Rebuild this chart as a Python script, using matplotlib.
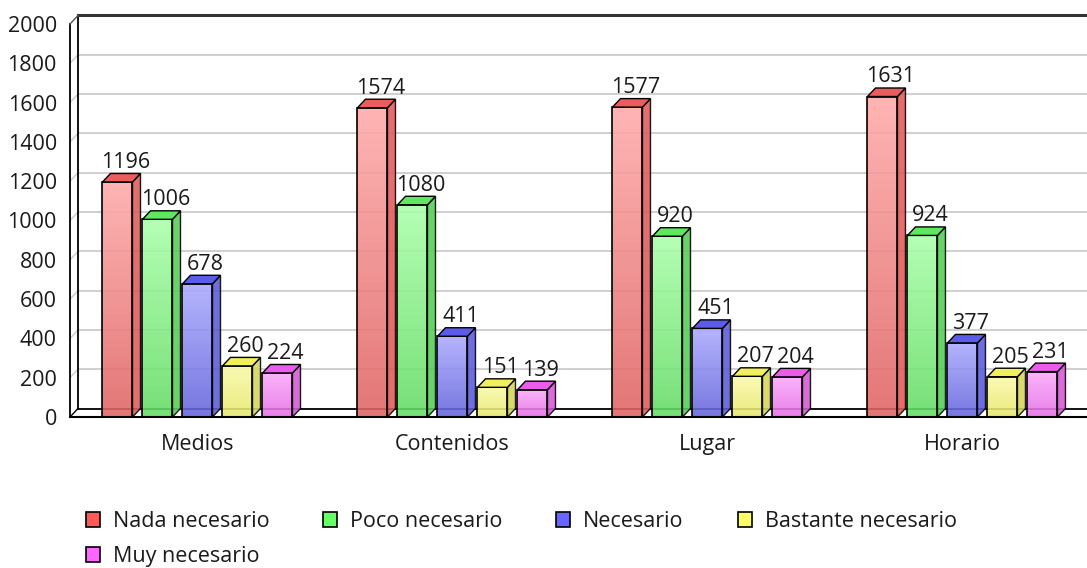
import matplotlib.pyplot as plt
import numpy as np
from matplotlib.patches import Polygon, Rectangle, Patch

plt.rcParams['font.family'] = ['Open Sans', 'DejaVu Sans']

categories = ['Medios', 'Contenidos', 'Lugar', 'Horario']
series = ['Nada necesario', 'Poco necesario', 'Necesario', 'Bastante necesario', 'Muy necesario']
nada = [1196, 1574, 1577, 1631]
poco = [1006, 1080, 920, 924]
necesario = [678, 411, 451, 377]
bastante = [260, 151, 207, 205]
muy = [224, 139, 204, 231]
values = [nada, poco, necesario, bastante, muy]

# (front top, front bottom, side, top face, legend)
colors = [
    ('#ffaaaa', '#e06464', '#e05a5a', '#eb5c5c', '#ff5a5a'),
    ('#aaffaa', '#64dc64', '#55cc55', '#5ee85e', '#66ff66'),
    ('#aaaaff', '#6464dc', '#5a5ad8', '#5c5ceb', '#6666ff'),
    ('#fafaaa', '#e8e86c', '#d4d45a', '#f0f05c', '#ffff66'),
    ('#fbaafb', '#e66ee6', '#d25ad2', '#eb5ceb', '#ff66ff'),
]
text_color = '#1a1a1a'
fs = 15.5

W, H = 1087, 568
fig = plt.figure(figsize=(W / 100, H / 100), dpi=100)
ax = fig.add_axes([70 / W, 151 / H, 1009 / W, 393 / H])
xmin, xmax = -0.5, 3.457
ymax = 2000
px_x = 1009 / (xmax - xmin)
px_y = 393 / ymax
dx = 8 / px_x
dy = 8.5 / px_y

bar_w = 30 / px_x
pitch = 40 / px_x
half_group = (4 * pitch + bar_w) / 2

# walls and grid
for v in range(200, 2000, 200):
    ax.plot([xmin + dx, xmax + 2 * dx], [v + dy, v + dy], color='#cccccc', lw=1.3, clip_on=False, zorder=1)
    ax.plot([xmin, xmin + dx], [v, v + dy], color='#cccccc', lw=1.0, clip_on=False, zorder=1)
ax.plot([xmin + dx, xmin + dx], [dy, ymax + dy], color='black', lw=1.3, clip_on=False, zorder=2)
ax.plot([xmin + dx, xmax + 2 * dx], [ymax + dy, ymax + dy], color='#333333', lw=2.2, clip_on=False, zorder=2)
ax.plot([xmin, xmin], [0, ymax], color='black', lw=1.3, clip_on=False, zorder=2)
ax.plot([xmin, xmin + dx], [ymax, ymax + dy], color='#555555', lw=1.0, clip_on=False, zorder=2)
ax.plot([xmin + dx, xmax + 2 * dx], [dy, dy], color='black', lw=1.3, clip_on=False, zorder=2)
ax.plot([xmin, xmax + 2 * dx], [0, 0], color='black', lw=1.5, clip_on=False, zorder=6)
ax.plot([xmin, xmin + dx], [0, dy], color='black', lw=1.0, clip_on=False, zorder=2)

grad = np.linspace(0, 1, 64).reshape(-1, 1)
for si, vals in enumerate(values):
    c_top, c_bot, c_side, c_face, _ = colors[si]
    ctop = np.array(plt.matplotlib.colors.to_rgb(c_top))
    cbot = np.array(plt.matplotlib.colors.to_rgb(c_bot))
    for ci, v in enumerate(vals):
        x0 = ci - half_group + si * pitch
        img = ctop[None, None, :] * (1 - grad[:, :, None]) + cbot[None, None, :] * grad[:, :, None]
        ax.imshow(img, extent=[x0, x0 + bar_w, 0, v], origin='upper', aspect='auto',
                  alpha=0.88, zorder=3, interpolation='bilinear')
        ax.add_patch(Rectangle((x0, 0), bar_w, v, facecolor='none', edgecolor='black', lw=1.2, zorder=4))
        side = [(x0 + bar_w, 0), (x0 + bar_w + dx, dy), (x0 + bar_w + dx, v + dy), (x0 + bar_w, v)]
        ax.add_patch(Polygon(side, closed=True, facecolor=c_side, edgecolor='black', lw=1.0, alpha=0.88, zorder=4))
        top = [(x0, v), (x0 + dx, v + dy), (x0 + bar_w + dx, v + dy), (x0 + bar_w, v)]
        ax.add_patch(Polygon(top, closed=True, facecolor=c_face, edgecolor='black', lw=1.0, zorder=4))
        ax.annotate(str(v), (x0 + bar_w / 2 + dx, v + dy), xytext=(0, 4), textcoords='offset points',
                    ha='center', va='baseline', fontsize=fs, color=text_color, zorder=7)

ax.set_xlim(xmin, xmax)
ax.set_ylim(0, ymax)
ax.set_yticks(range(0, 2001, 200))
ax.set_xticks(range(len(categories)))
ax.set_xticklabels(categories)
ax.tick_params(axis='both', length=0, labelsize=fs, labelcolor=text_color)
ax.tick_params(axis='y', pad=9.5)
ax.tick_params(axis='x', pad=12)
for s in ax.spines.values():
    s.set_visible(False)
ax.patch.set_alpha(0)

handles = [Patch(facecolor=c[4], edgecolor='black', lw=1.2) for c in colors]
order = [0, 4, 1, 2, 3]
fig.legend([handles[i] for i in order], [series[i] for i in order], ncol=4,
           loc='upper left', bbox_to_anchor=(86 / W, 1 - 511 / H), frameon=False,
           fontsize=fs, labelcolor=text_color, handlelength=0.65, handleheight=0.65,
           handletextpad=0.6, columnspacing=2.5, labelspacing=0.65,
           borderpad=0, borderaxespad=0)

fig.savefig('out.png', dpi=100)
